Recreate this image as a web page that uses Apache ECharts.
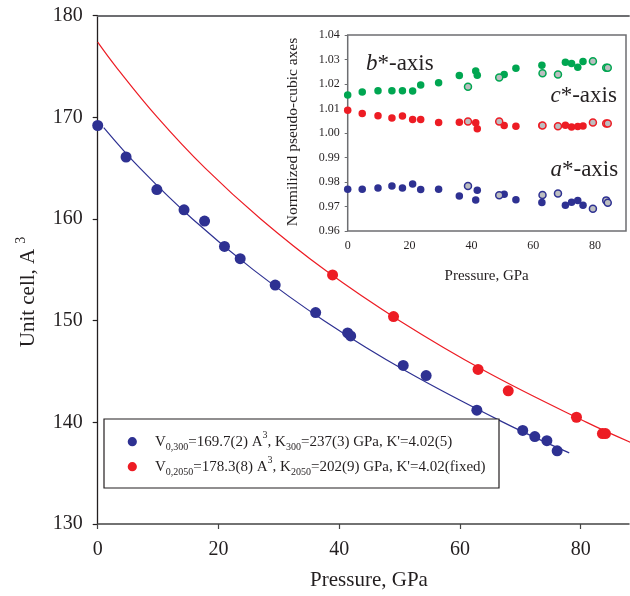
<!DOCTYPE html>
<html><head><meta charset="utf-8">
<script src="https://cdn.jsdelivr.net/npm/echarts@6/dist/echarts.min.js"></script>
<style>html,body{margin:0;padding:0;background:#fff}#c{width:630px;height:596px}</style>
</head><body><div id="c"></div>
<script>
// ---- data ----
const mainXTicks = [0, 20, 40, 60, 80];
const mainYTicks = [130, 140, 150, 160, 170, 180];
const insetXTicks = [0, 20, 40, 60, 80];
const insetYTicks = [0.96, 0.97, 0.98, 0.99, 1.00, 1.01, 1.02, 1.03, 1.04];

const pressure300 = [0, 4.7, 9.8, 14.3, 17.7, 21.0, 23.6, 29.4, 36.1, 41.4, 41.9, 50.6, 54.4, 62.8, 70.4, 72.4, 74.4, 76.1];
const volume300 = [169.2, 166.1, 162.9, 160.9, 159.8, 157.3, 156.1, 153.5, 150.8, 148.8, 148.5, 145.6, 144.6, 141.2, 139.2, 138.6, 138.2, 137.2];
const pressure2050 = [38.9, 49.0, 63.0, 68.0, 79.3, 83.6, 84.1];
const volume2050 = [154.5, 150.4, 145.2, 143.1, 140.5, 138.9, 138.9];

const fit300P = [1.0, 7.0, 15.7, 25.8, 37.5, 51.2, 67.2, 78.1];
const fit300V = [169.0, 165.0, 160.0, 155.0, 150.0, 145.0, 140.0, 137.0];
const fit2050P = [0, 3.0, 9.9, 17.8, 27.0, 37.6, 50.0, 64.3, 81.0, 88.4];
const fit2050V = [177.4, 175.0, 170.0, 165.0, 160.0, 155.0, 150.0, 145.0, 140.0, 138.0];

const b300 = [1.0155, 1.0167, 1.0172, 1.0172, 1.0172, 1.0171, 1.0196, 1.0205, 1.0235, 1.0253, 1.0236, 1.0239, 1.0264, 1.0277, 1.0289, 1.0284, 1.0268, 1.0292];
const c300 = [1.0093, 1.0080, 1.0070, 1.0061, 1.0069, 1.0055, 1.0055, 1.0043, 1.0044, 1.0042, 1.0017, 1.0031, 1.0028, 1.0031, 1.0032, 1.0024, 1.0027, 1.0029];
const a300 = [0.9770, 0.9770, 0.9776, 0.9784, 0.9776, 0.9792, 0.9769, 0.9770, 0.9743, 0.9727, 0.9766, 0.9750, 0.9728, 0.9716, 0.9705, 0.9717, 0.9725, 0.9705];
const b2050 = [1.0189, 1.0227, 1.0244, 1.0239, 1.0293, 1.0266, 1.0266];
const c2050 = [1.0047, 1.0047, 1.0031, 1.0028, 1.0043, 1.0039, 1.0039];
const a2050 = [0.9784, 0.9746, 0.9747, 0.9753, 0.9691, 0.9725, 0.9715];

// ---- styles ----
const BLUE = '#2E3192', RED = '#ED1C24', GREEN = '#00A651', GRAY = '#BCBEC0';
const FONT = 'Liberation Serif';
const TXT = '#231F20';
const pairs = (xs, ys) => xs.map((x, i) => [x, ys[i]]);

const chart = echarts.init(document.getElementById('c'), null, {renderer: 'canvas'});

function insetFilled(name, ys, color) {
  return {type: 'scatter', name, xAxisIndex: 2, yAxisIndex: 1, data: pairs(pressure300, ys),
    symbolSize: 7.5, itemStyle: {color, opacity: 1}, z: 5};
}
function insetOpen(name, ys, color) {
  return {type: 'scatter', name, xAxisIndex: 2, yAxisIndex: 1, data: pairs(pressure2050, ys),
    symbolSize: 7, itemStyle: {color: GRAY, borderColor: color, borderWidth: 1.5, opacity: 1}, z: 6};
}

const legendRich = {
  t: {fontFamily: FONT, fontSize: 15, lineHeight: 22, verticalAlign: 'middle', color: TXT},
  s: {fontFamily: FONT, fontSize: 10, lineHeight: 12, verticalAlign: 'bottom', color: TXT},
  p: {fontFamily: FONT, fontSize: 10, lineHeight: 14, verticalAlign: 'top', color: TXT}
};
function gtext(x, y, text, style, extra) {
  return Object.assign({type: 'text', x, y, silent: true, z: 100,
    style: Object.assign({text, fill: TXT, fontFamily: FONT, fontSize: 15,
      align: 'center', verticalAlign: 'middle', textAlign: 'center', textVerticalAlign: 'middle'}, style || {})},
    extra || {});
}
const axisLabelRich = (size) => ({
  i: {fontFamily: FONT, fontSize: size, fontStyle: 'italic', color: TXT},
  t: {fontFamily: FONT, fontSize: size, color: TXT}
});

const option = {
  animation: false,
  backgroundColor: '#fff',
  grid: [
    {left: 97.7, top: 15.7, right: 1, bottom: 72},
    {left: 347.7, top: 35, right: 4, bottom: 365, show: true, backgroundColor: '#fff', borderColor: '#6d6e71', borderWidth: 1.5, z: 4}
  ],
  xAxis: [
    {type: 'value', gridIndex: 0, min: 0, max: 88, interval: 20, position: 'bottom',
      axisLine: {show: true, onZero: false, lineStyle: {color: '#444', width: 1.5}},
      axisTick: {show: true, length: 5, customValues: mainXTicks, lineStyle: {color: '#444', width: 1.2}},
      axisLabel: {customValues: mainXTicks, margin: 16, fontFamily: FONT, fontSize: 20, color: TXT},
      splitLine: {show: false}},
    {type: 'value', gridIndex: 0, min: 0, max: 88, position: 'top',
      axisLine: {show: true, onZero: false, lineStyle: {color: '#6d6e71', width: 1.8}},
      axisTick: {show: false}, axisLabel: {show: false}, splitLine: {show: false}},
    {type: 'value', gridIndex: 1, min: 0, max: 90, interval: 20,
      axisLine: {show: false}, axisTick: {show: false},
      axisLabel: {customValues: insetXTicks, margin: 9, fontFamily: FONT, fontSize: 12, color: TXT},
      splitLine: {show: false}}
  ],
  yAxis: [
    {type: 'value', gridIndex: 0, min: 130, max: 180, interval: 10,
      axisLine: {show: true, onZero: false, lineStyle: {color: TXT, width: 1.3}},
      axisTick: {show: true, length: 5, customValues: mainYTicks, lineStyle: {color: TXT, width: 1.2}},
      axisLabel: {customValues: mainYTicks, margin: 15, fontFamily: FONT, fontSize: 20, color: TXT},
      splitLine: {show: false}},
    {type: 'value', gridIndex: 1, min: 0.96, max: 1.04, interval: 0.01,
      axisLine: {show: false},
      axisTick: {show: true, length: 3, customValues: insetYTicks, lineStyle: {color: '#6d6e71', width: 1}},
      axisLabel: {customValues: insetYTicks, margin: 8, fontFamily: FONT, fontSize: 12, color: TXT,
        formatter: v => v.toFixed(2)},
      splitLine: {show: false}}
  ],
  series: [
    {type: 'line', name: 'fit300', xAxisIndex: 0, yAxisIndex: 0, data: pairs(fit300P, fit300V),
      smooth: 0.4, showSymbol: false, lineStyle: {color: BLUE, width: 1.2}, z: 2},
    {type: 'line', name: 'fit2050', xAxisIndex: 0, yAxisIndex: 0, data: pairs(fit2050P, fit2050V),
      smooth: 0.4, showSymbol: false, lineStyle: {color: RED, width: 1.2}, z: 2},
    {type: 'scatter', name: '300 K', xAxisIndex: 0, yAxisIndex: 0, data: pairs(pressure300, volume300),
      symbolSize: 11, itemStyle: {color: BLUE, opacity: 1}, z: 3},
    {type: 'scatter', name: '2050 K', xAxisIndex: 0, yAxisIndex: 0, data: pairs(pressure2050, volume2050),
      symbolSize: 11, itemStyle: {color: RED, opacity: 1}, z: 3},
    insetFilled('b300', b300, GREEN),
    insetFilled('c300', c300, RED),
    insetFilled('a300', a300, BLUE),
    insetOpen('b2050', b2050, GREEN),
    insetOpen('c2050', c2050, RED),
    insetOpen('a2050', a2050, BLUE)
  ],
  graphic: [
    {type: 'rect', shape: {x: 104, y: 419, width: 395, height: 69}, silent: true, z: 90,
      style: {fill: '#fff', stroke: TXT, lineWidth: 1.2}},
    {type: 'circle', shape: {cx: 132.3, cy: 441.7, r: 4.6}, silent: true, z: 100, style: {fill: BLUE}},
    {type: 'circle', shape: {cx: 132.3, cy: 466.7, r: 4.6}, silent: true, z: 100, style: {fill: RED}},
    gtext(155, 441.7, "{t|V}{s|0,300}{t|=169.7(2) A}{p|3}{t|, K}{s|300}{t|=237(3) GPa, K'=4.02(5)}",
      {align: 'left', textAlign: 'left', rich: legendRich}),
    gtext(155, 466.7, "{t|V}{s|0,2050}{t|=178.3(8) A}{p|3}{t|, K}{s|2050}{t|=202(9) GPa, K'=4.02(fixed)}",
      {align: 'left', textAlign: 'left', rich: legendRich}),
    gtext(369, 580, 'Pressure, GPa', {fontSize: 21}),
    gtext(28, 292, '{t|Unit cell, A}{p|3}', {rich: {
      t: {fontFamily: FONT, fontSize: 21, lineHeight: 28, verticalAlign: 'middle', color: TXT},
      p: {fontFamily: FONT, fontSize: 14, lineHeight: 16, verticalAlign: 'top', color: TXT, padding: [0, 0, 0, 5]}}},
      {rotation: Math.PI / 2}),
    gtext(486.7, 276, 'Pressure, GPa', {fontSize: 15}),
    gtext(293, 132, 'Normilized pseudo-cubic axes', {fontSize: 15.5}, {rotation: Math.PI / 2}),
    gtext(366, 63.5, '{i|b}{t|*-axis}', {align: 'left', textAlign: 'left', rich: axisLabelRich(23)}),
    gtext(550.5, 96, '{i|c}{t|*-axis}', {align: 'left', textAlign: 'left', rich: axisLabelRich(23)}),
    gtext(550.5, 169.5, '{i|a}{t|*-axis}', {align: 'left', textAlign: 'left', rich: axisLabelRich(23)})
  ]
};
chart.setOption(option);
</script></body></html>
